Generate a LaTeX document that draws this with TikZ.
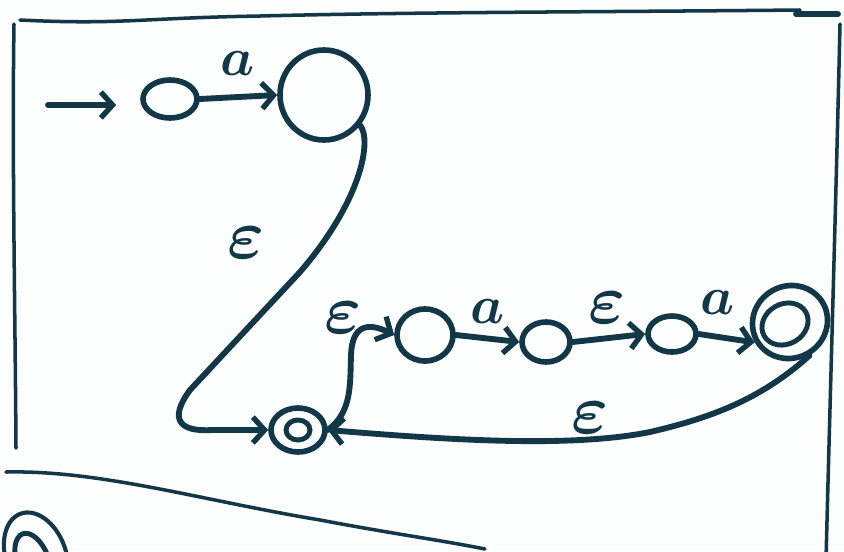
\documentclass[tikz,border=0pt]{standalone}
\usetikzlibrary{arrows.meta,shapes.geometric}
\definecolor{tinta}{HTML}{123848}
\definecolor{papel}{HTML}{FCFDFD}
\tikzset{
  estado/.style={draw=tinta, ellipse, line width=4.8pt, inner sep=0pt},
  anillo/.style={draw=tinta, ellipse, line width=4.2pt, inner sep=0pt},
  trans/.style={draw=tinta, line width=5pt, line cap=round, line join=round,
    -{Straight Barb[length=10pt,width=22pt,line width=4.6pt]}},
  marco/.style={draw=tinta, line width=3pt, line cap=round},
  etiq/.style={text=tinta, inner sep=0pt, scale=6, font=\boldmath},
  etiqa/.style={text=tinta, inner sep=0pt, scale=4.6, font=\boldmath}
}
\begin{document}
\begin{tikzpicture}[x=0.03cm, y=-0.03cm]
    \fill[papel] (0,0) rectangle (844,551);
    \useasboundingbox (0,0) rectangle (844,551);
    \clip (0,0) rectangle (844,551);

    % Marco
    \draw[marco] (20,20) .. controls (120,25) and (140,18) .. (260,16)
        .. controls (420,12) and (600,12) .. (800,10);
    \draw[marco, line width=5pt] (796,14) -- (838,14);
    \draw[marco] (14,24) .. controls (12,150) and (15,300) .. (16,448);
    \draw[marco] (840,24) .. controls (836,200) and (830,400) .. (826,560);
    \draw[marco] (6,472) .. controls (100,470) and (200,500) .. (320,520)
        .. controls (400,535) and (440,540) .. (485,549);

    % Estados
    \node[estado, minimum width=54*0.03cm, minimum height=38*0.03cm] (q0) at (170,99) {};
    \node[estado, minimum width=88*0.03cm, minimum height=90*0.03cm] (q1) at (324,95) {};
    \node[estado, minimum width=54*0.03cm, minimum height=44*0.03cm] (qf) at (298,430) {};
    \node[anillo, minimum width=24*0.03cm, minimum height=20*0.03cm] (qfin) at (qf) {};
    \node[estado, minimum width=56*0.03cm, minimum height=52*0.03cm] (s1) at (425,335) {};
    \node[estado, minimum width=48*0.03cm, minimum height=40*0.03cm] (s2) at (546,342) {};
    \node[estado, minimum width=48*0.03cm, minimum height=36*0.03cm] (s3) at (672,334) {};
    \node[estado, minimum width=76*0.03cm, minimum height=72*0.03cm, rotate=30] (s4) at (790,322) {};
    \node[anillo, minimum width=48*0.03cm, minimum height=40*0.03cm, rotate=30] (s4in) at (785,324) {};
    \node[estado, line width=3.5pt, minimum width=60*0.03cm, minimum height=90*0.03cm, rotate=20] (qb) at (36,556) {};
    \node[anillo, minimum width=32*0.03cm, minimum height=60*0.03cm, rotate=20] (qbin) at (33,562) {};

    % Entrada
    \coordinate (ini) at (48,105);
    \draw[trans, shorten >=24*0.03cm] (ini) -- (ini -| q0.west);

    % Transiciones
    \draw[trans] (q0.east) -- (q1.west);
    \draw[trans] (q1.-40) .. controls (372,140) and (362,200) .. (300,272)
        -- (190,390) .. controls (168,420) and (180,432) .. (212,430) -- (qf.west);
    \draw[trans] (qf.east) .. controls (352,412) and (350,385) .. (351,355)
        .. controls (352,325) and (368,322) .. (s1.west);
    \draw[trans] (s1.east) -- (s2.west);
    \draw[trans] (s2.east) -- (s3.west);
    \draw[trans] (s3.east) -- (s4.west);
    \draw[trans] (s4.south) .. controls (760,400) and (710,418) .. (650,432)
        .. controls (570,448) and (450,440) .. (qf.east);

    % Etiquetas
    \node[etiqa] (la1) at (238,64) {$a$};
    \node[etiq] (le1) at (246,243) {$\varepsilon$};
    \node[etiq] (le2) at (343,318) {$\varepsilon$};
    \node[etiqa] (la2) at (488,312) {$a$};
    \node[etiq] (le3) at (607,308) {$\varepsilon$};
    \node[etiqa] (la3) at (718,303) {$a$};
    \node[etiq] (le4) at (590,418) {$\varepsilon$};
\end{tikzpicture}
\end{document}
